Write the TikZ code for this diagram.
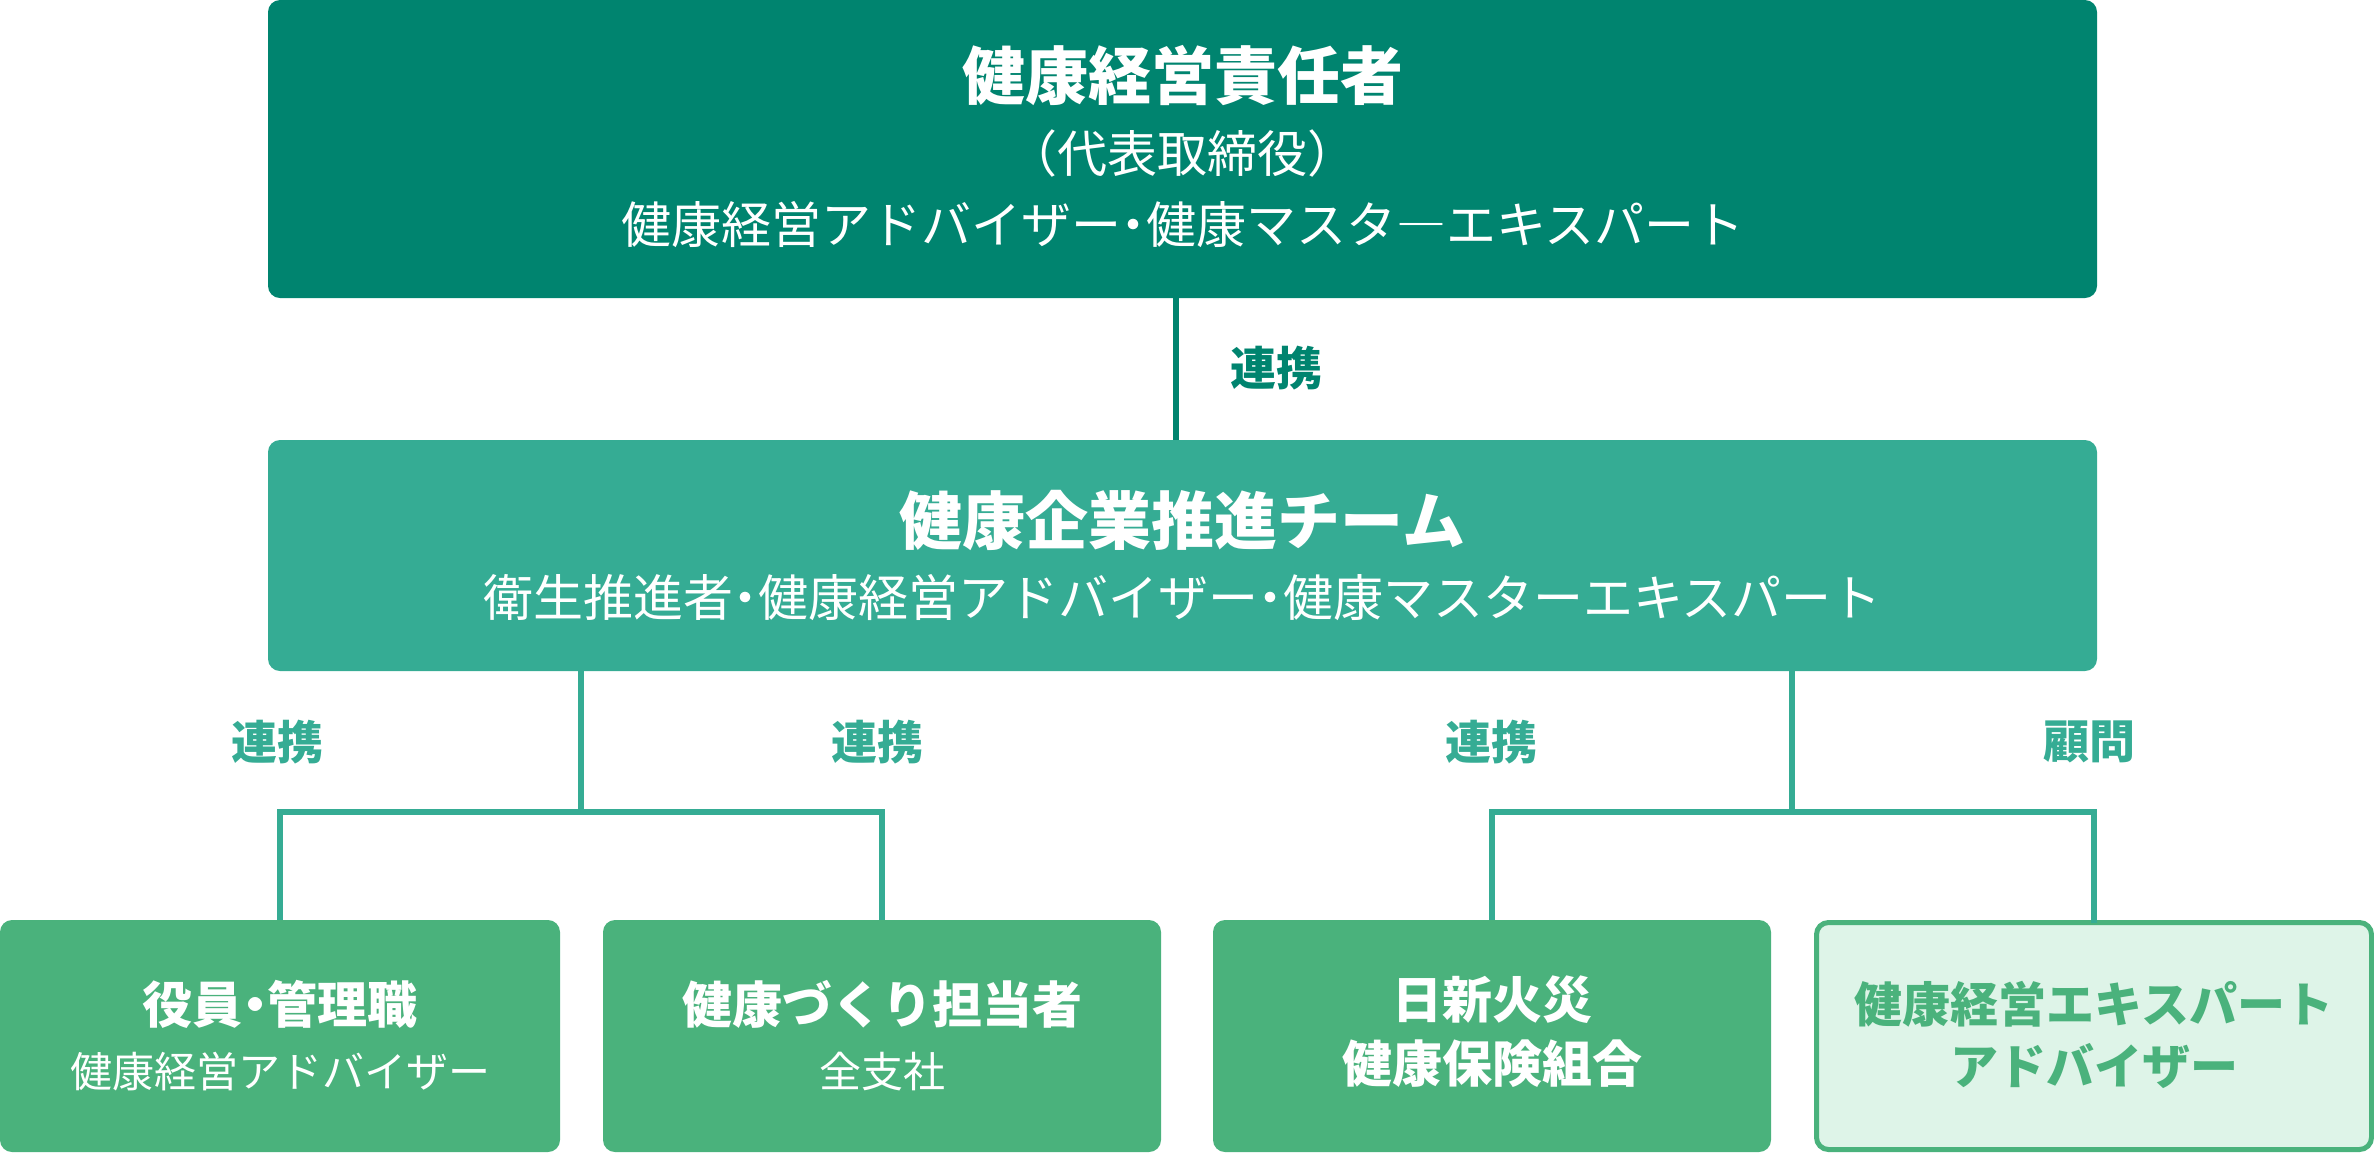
\documentclass[tikz,border=0pt]{standalone}
\usepackage{fontspec}
\setmainfont{Noto Sans CJK JP}
\newfontfamily\haltfont[RawFeature=+halt]{Noto Sans CJK JP}
\newcommand{\hdot}{{\haltfont ・}}
\definecolor{topc}{HTML}{00846F}
\definecolor{midc}{HTML}{35AC94}
\definecolor{botc}{HTML}{4AB27C}
\definecolor{lightc}{HTML}{DEF4E8}
\tikzset{
  box/.style={rounded corners=12pt, inner sep=0pt, draw=none},
  conn/.style={line width=6pt},
  ttl/.style={inner sep=0pt, text=white, font=\fontsize{63pt}{70pt}\selectfont\bfseries},
  sub/.style={inner sep=0pt, text=white, font=\fontsize{50pt}{58pt}\selectfont},
  bttl/.style={inner sep=0pt, text=white, font=\fontsize{50pt}{58pt}\selectfont\bfseries},
  bsub/.style={inner sep=0pt, text=white, font=\fontsize{42pt}{50pt}\selectfont},
  lttl/.style={inner sep=0pt, text=botc, font=\fontsize{48pt}{56pt}\selectfont\bfseries},
  lab/.style={inner sep=0pt, font=\fontsize{46pt}{54pt}\selectfont\bfseries},
}
\begin{document}
\begin{tikzpicture}[x=1pt,y=-1pt]
\useasboundingbox (0,0) rectangle (2374,1152);
% boxes
\node[box, fill=topc, minimum width=1829pt, minimum height=298pt] (top) at (1182.5,149) {};
\node[box, fill=midc, minimum width=1829pt, minimum height=231pt] (mid) at (1182.5,555.5) {};
\node[box, fill=botc, minimum width=560pt, minimum height=232pt] (b1) at (280,1036) {};
\node[box, fill=botc, minimum width=558pt, minimum height=232pt] (b2) at (882,1036) {};
\node[box, fill=botc, minimum width=558pt, minimum height=232pt] (b3) at (1492,1036) {};
\node[box, fill=lightc, draw=botc, line width=5pt, minimum width=555pt, minimum height=227pt] (b4) at (2094,1036) {};
% texts
\node[ttl] (topA) at (1182.5,76) {健康経営責任者};
\node[sub] (topB) at (1182.5,153) {{\haltfont （}代表取締役{\haltfont ）}};
\node[sub] (topC) at (1183,225) {健康経営アドバイザー\hdot 健康マスタ―エキスパート};
\node[ttl] (midA) at (1182.5,520) {健康企業推進チーム};
\node[sub] (midB) at (1182.5,598) {衛生推進者\hdot 健康経営アドバイザー\hdot 健康マスターエキスパート};
\node[bttl] (b1A) at (280,1004) {役員\hdot 管理職};
\node[bsub] (b1B) at (280,1072) {健康経営アドバイザー};
\node[bttl] (b2A) at (882,1004) {健康づくり担当者};
\node[bsub] (b2B) at (882,1072) {全支社};
\node[bttl] (b3A) at (1492,1000) {日新火災};
\node[bttl] (b3B) at (1492,1064) {健康保険組合};
\node[lttl] (b4A) at (2094,1004) {健康経営エキスパート};
\node[lttl] (b4B) at (2094,1066) {アドバイザー};
% labels
\node[lab, text=topc] (l0) at (1276,368) {連携};
\node[lab, text=midc] (l1) at (277,742) {連携};
\node[lab, text=midc] (l2) at (877,742) {連携};
\node[lab, text=midc] (l3) at (1491,742) {連携};
\node[lab, text=midc] (l4) at (2089,742) {顧問};
% connectors
\coordinate (jL) at (581,812);
\coordinate (jR) at (1792,812);
\draw[conn, draw=topc] ([xshift=-7pt]top.south) -- ([xshift=-7pt]mid.north);
\draw[conn, draw=midc] (mid.south -| jL) -- (jL);
\draw[conn, draw=midc] (mid.south -| jR) -- (jR);
\draw[conn, draw=midc] (b1.north) |- (jL) -| (b2.north);
\draw[conn, draw=midc] (b3.north) |- (jR) -| ([yshift=-2.5pt]b4.north);
\end{tikzpicture}
\end{document}
